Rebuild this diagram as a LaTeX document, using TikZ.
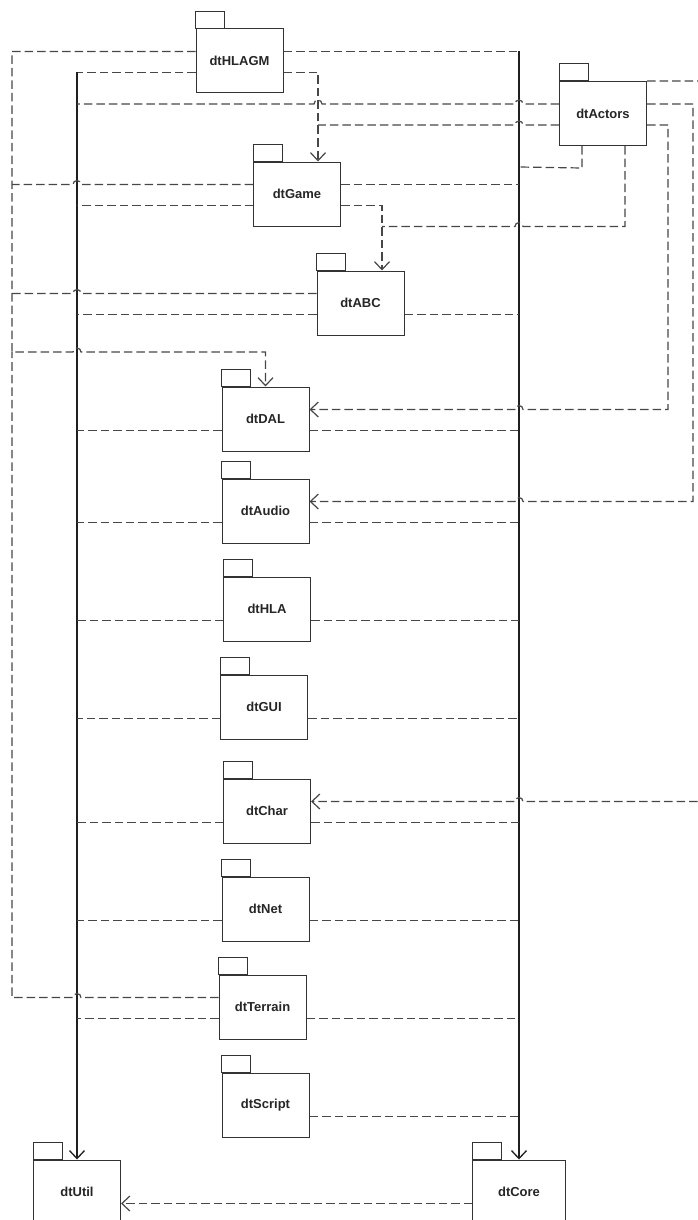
\documentclass[tikz,border=0pt]{standalone}
\usepackage{fontspec}
\setmainfont{Liberation Sans}
\usepackage{tikz}
\usetikzlibrary{arrows.meta}

\tikzset{
    pkg/.style = {draw = black!80, line width = 1pt, fill = white,
        minimum width = 87pt, minimum height = 64pt, inner sep = 0pt,
        text = black!85, font = \fontsize{13}{15}\selectfont\bfseries},
    tab/.style = {draw = black!80, line width = 1pt},
    dep/.style = {draw = black!72, line width = 1.2pt, dash pattern = on 8.5pt off 4pt},
    trunk/.style = {draw = black!88, line width = 1.3pt},
    >={Straight Barb[length = 8pt, width = 15pt]}
}

\begin{document}
\begin{tikzpicture}[x = 1pt, y = -1pt]
    \useasboundingbox (0, 0) rectangle (697, 1220);

    %% packages
    \node[pkg] (hlagm) at (239.5, 61) {dtHLAGM};
    \node[pkg] (game) at (297, 194) {dtGame};
    \node[pkg] (actors) at (603, 113.5) {dtActors};
    \node[pkg] (abc) at (360.5, 303) {dtABC};
    \node[pkg] (dal) at (265.5, 419) {dtDAL};
    \node[pkg] (audio) at (265.5, 511) {dtAudio};
    \node[pkg] (hla) at (267, 609) {dtHLA};
    \node[pkg] (gui) at (264, 707) {dtGUI};
    \node[pkg] (char) at (267, 811) {dtChar};
    \node[pkg] (net) at (265.5, 909) {dtNet};
    \node[pkg] (terrain) at (262.5, 1007) {dtTerrain};
    \node[pkg] (script) at (265.5, 1105) {dtScript};
    \node[pkg] (util) at (77, 1192) {dtUtil};
    \node[pkg, minimum width = 93pt] (core) at (519, 1192) {dtCore};

    \foreach \p in {hlagm, game, actors, abc, dal, audio, hla, gui, char, net, terrain, script, util, core}
        \draw[tab] (\p.north west) rectangle ++(29, -17);

    %% trunks down to dtUtil and dtCore
    \coordinate (utop) at (77, 72.5);
    \coordinate (ctop) at (519, 51.5);
    \draw[dep] ([yshift = -11.5pt] hlagm.west) -- (utop);
    \draw[dep] ([yshift = 9.5pt] hlagm.east) -- (ctop);
    \draw[trunk, ->] (utop) -- (util);
    \draw[trunk, ->] (ctop) -- (core);

    \foreach \p in {game, abc, dal, audio, hla, gui, char, net, terrain}
        \draw[dep] ([yshift = -11.5pt] \p.west) coordinate (s) -- (s -| utop);
    \foreach \p in {abc, dal, audio, hla, gui, char, net, terrain, script}
        \draw[dep] ([yshift = -11.5pt] \p.east) coordinate (s) -- (s -| ctop);
    \draw[dep] ([yshift = 9.5pt] game.east) coordinate (s) -- (s -| ctop);
    \draw[dep] ([xshift = -21pt] actors.south) -- ++(0, 22) -- (ctop |- 0, 167);
    \draw[dep] ([yshift = 9.5pt] actors.west)
        -- (523, 104) arc[start angle = 0, end angle = 180, radius = 4pt]
        -- (322, 104) arc[start angle = 0, end angle = 180, radius = 4pt]
        -- (utop |- 0, 104);

    %% left bus into dtDAL
    \draw[dep, ->] ([yshift = 9.5pt] hlagm.west) -| (12, 352)
        -- (73, 352) arc[start angle = 180, end angle = 0, radius = 4pt]
        -- (dal.north |- 0, 352) -- (dal.north);
    \draw[dep] ([yshift = 9.5pt] game.west)
        -- (81, 184.5) arc[start angle = 0, end angle = 180, radius = 4pt] -- (12, 184.5);
    \draw[dep] ([yshift = 9.5pt] abc.west)
        -- (81, 293.5) arc[start angle = 0, end angle = 180, radius = 4pt] -- (12, 293.5);
    \draw[dep] ([yshift = 9.5pt] terrain.west)
        -- (81, 997.5) arc[start angle = 0, end angle = 180, radius = 4pt]
        -- (12, 997.5) -- (12, 352);

    %% dtGame and dtABC
    \draw[dep, ->] ([yshift = -11.5pt] hlagm.east) -| ([xshift = 21pt] game.north);
    \draw[dep] ([yshift = -11.5pt] actors.west)
        -- (523, 125) arc[start angle = 0, end angle = 180, radius = 4pt] -- (318, 125);
    \draw[dep, ->] ([yshift = -11.5pt] game.east) -| ([xshift = 21.5pt] abc.north);
    \draw[dep] ([xshift = 22pt] actors.south) |- (523, 226.5)
        arc[start angle = 0, end angle = 180, radius = 4pt] -- (382, 226.5);

    %% dtActors on the right
    \draw[dep, ->] ([yshift = -11.5pt] actors.east) -| (668, 409.5)
        -- (523, 409.5) arc[start angle = 0, end angle = 180, radius = 4pt]
        -- ([yshift = 9.5pt] dal.east);
    \draw[dep, ->] ([yshift = 9.5pt] actors.east) -| (693, 501.5)
        -- (523, 501.5) arc[start angle = 0, end angle = 180, radius = 4pt]
        -- ([yshift = 9.5pt] audio.east);
    \draw[dep, ->] (actors.north east) -| (712, 801.5)
        -- (523, 801.5) arc[start angle = 0, end angle = 180, radius = 4pt]
        -- ([yshift = 9.5pt] char.east);

    \draw[dep, ->] ([yshift = -11.5pt] core.west) -- ([yshift = -11.5pt] util.east);
\end{tikzpicture}
\end{document}
